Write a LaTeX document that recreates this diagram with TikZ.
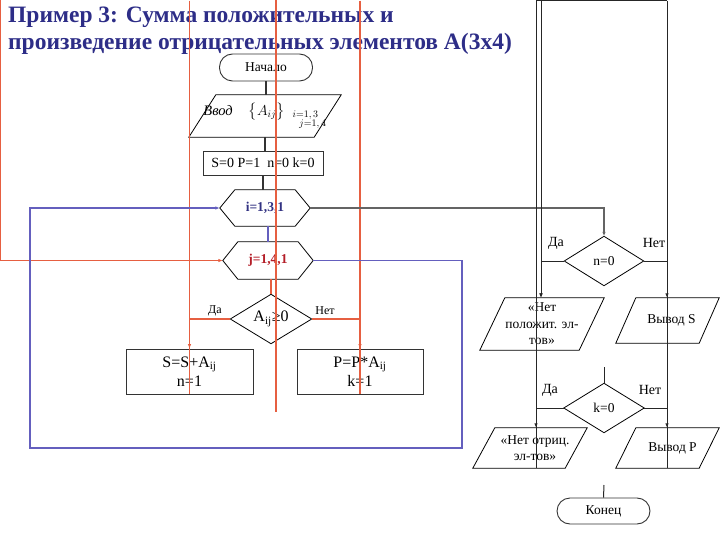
\documentclass[tikz,border=0pt]{standalone}
\usepackage{fontspec}
\usepackage{amsmath}
\setmainfont{Liberation Serif}
\usetikzlibrary{arrows.meta,calc}
\definecolor{redline}{RGB}{230,95,65}
\definecolor{blueline}{RGB}{100,95,190}
\definecolor{titleblue}{RGB}{45,45,135}
\definecolor{idark}{RGB}{50,50,130}
\definecolor{jred}{RGB}{180,30,40}
\definecolor{grayline}{RGB}{100,100,100}
\newcommand\drawpara[2]{\draw[shapeline] ([xshift=#2]#1.north west) -- ([xshift=#2]#1.north east) -- ([xshift=-#2]#1.south east) -- ([xshift=-#2]#1.south west) -- cycle;}
\newcommand\drawhex[2]{\draw[shapeline] (#1.north west) -- (#1.north east) -- ([xshift=#2]#1.east) -- (#1.south east) -- (#1.south west) -- ([xshift=-#2]#1.west) -- cycle;}
\newcommand\drawdia[1]{\draw[shapeline] (#1.north) -- (#1.east) -- (#1.south) -- (#1.west) -- cycle;}
\begin{document}
\begin{tikzpicture}[x=1pt,y=-1pt,
  shapeline/.style={draw=black, line width=0.8pt},
  shp/.style={rectangle, inner sep=0pt, align=center, font=\fontsize{13.5}{16.5}\selectfont},
  boxn/.style={shp, draw=black!80, line width=0.9pt},
  term/.style={shp, draw=black!80, line width=0.9pt, rounded corners=13pt},
  conn/.style={draw=black!80, line width=1.2pt},
  thinl/.style={draw=black!85, line width=1pt},
  redl/.style={draw=redline, line width=1.1pt},
  bluel/.style={draw=blueline, line width=1.5pt},
  grayl/.style={draw=grayline, line width=1.5pt},
  arr/.style={-{Latex[length=4.5pt,width=3.5pt]}},
  lblS/.style={inner sep=0pt, font=\fontsize{12}{12}\selectfont},
  lblL/.style={inner sep=0pt, font=\fontsize{14}{14}\selectfont}]
\useasboundingbox (0,0) rectangle (720,540);
\coordinate (top) at (0,0.6);

% title
\node[anchor=north west, inner sep=0pt, align=left, text=titleblue,
  font=\bfseries\fontsize{23.5}{27}\selectfont] (title) at (8,6.5)
  {Пример 3: Сумма положительных и\\произведение отрицательных элементов А(3х4)};

% left flowchart
\node[term, minimum width=93, minimum height=27, font=\fontsize{13.5}{15}\selectfont] (start) at (266,67.5) {Начало};
\node[shp, minimum width=125, minimum height=42] (inp) at (265,116)
  {\fontsize{14.5}{16}\selectfont\textit{Ввод}\hspace{1.1em}$\bigl\{A_{ij}\bigr\}_{\substack{i=1,\,3\\ \quad j=1,\,4}}$};
\drawpara{inp}{13.5}
\node[boxn, minimum width=120, minimum height=24, font=\fontsize{14}{16}\selectfont] (init) at (263,163) {S=0 P=1\ \ n=0 k=0};
\node[shp, minimum width=60, minimum height=36, text=idark, font=\bfseries\fontsize{13.5}{16}\selectfont] (i) at (265,208) {i=1,3,1};
\drawhex{i}{15}
\node[shp, minimum width=60, minimum height=37, text=jred, font=\bfseries\fontsize{13.5}{16}\selectfont] (j) at (268,260.5) {j=1,4,1};
\drawhex{j}{15}
\node[shp, minimum width=81, minimum height=49, font=\fontsize{16}{18}\selectfont] (d) at (271,319) {A\textsubscript{ij}≥0};
\drawdia{d}
\node[boxn, minimum width=127, minimum height=45, font=\fontsize{16}{19}\selectfont] (sb) at (189.5,371.5) {S=S+A\textsubscript{ij}\\n=1};
\node[boxn, minimum width=126, minimum height=45, font=\fontsize{16}{19}\selectfont] (pb) at (360,371.5) {P=P*A\textsubscript{ij}\\k=1};
\node[lblS] at (215,311) {Да};
\node[lblS] at (325,311) {Нет};

\coordinate (iL) at ([xshift=-15pt]i.west);
\coordinate (iR) at ([xshift=15pt]i.east);
\coordinate (jL) at ([xshift=-15pt]j.west);
\coordinate (jR) at ([xshift=15pt]j.east);

% right flowchart
\node[shp, minimum width=79, minimum height=49, font=\fontsize{13.5}{16}\selectfont] (n0) at (604,261) {n=0};
\drawdia{n0}
\node[shp, minimum width=99, minimum height=52] (npos) at (542,324) {«Нет\\положит. эл-\\тов»};
\drawpara{npos}{12.5}
\node[shp, minimum width=83, minimum height=45] (vs) at (667.5,320.5) {\hspace{8pt}Вывод S};
\drawpara{vs}{10}
\node[shp, minimum width=80, minimum height=49, font=\fontsize{13.5}{16}\selectfont] (k0) at (604,408) {k=0};
\drawdia{k0}
\node[shp, minimum width=92, minimum height=40] (nneg) at (530,448) {\hspace{10pt}«Нет отриц.\\\hspace{10pt}эл-тов»};
\drawpara{nneg}{11}
\node[shp, minimum width=83, minimum height=40] (vp) at (667.5,448) {\hspace{10pt}Вывод P};
\drawpara{vp}{10}
\node[term, minimum width=93, minimum height=26, font=\fontsize{13.5}{15}\selectfont] (end) at (603.5,511) {Конец};
\node[lblL] at (556,243) {Да};
\node[lblL] at (654,243) {Нет};
\node[lblL] at (550,390) {Да};
\node[lblL] at (650,390) {Нет};

% main connectors
\draw[conn] (start.south) -- (start.south |- inp.north);
\draw[conn] (inp.south) -- (inp.south |- init.north);
\draw[conn] (init.south) -- (init.south |- i.north);
\draw[bluel] (j.north |- i.south) -- (j.north);
\draw[redl] (d.north |- j.south) -- (d.north);

% red lines
\coordinate (rL) at (0.8,0);
\coordinate (rLb) at (0.8,260.5);
\draw[redl, arr] (rL) -- (rLb) -- (jL);
\draw[redl] (sb.north |- top) -- (sb.south);
\draw[redl] (pb.north |- top) -- (pb.south);
\coordinate (rMt) at (276,0);
\coordinate (rMb) at (276,412);
\draw[redl] (rMt) -- (rMb);
\draw[redl, arr] (d.west) -| (sb.north);
\draw[redl, arr] (d.east) -| (pb.north);

% blue loop
\coordinate (bl1) at (462,448);
\coordinate (bl2) at (30,448);
\draw[bluel, arr] (jR) -| (bl1) -- (bl2) |- (iL);

% gray exit
\draw[grayl, arr] (iR) -| (n0.north);

% right side lines
\coordinate (v1t) at (536,0.6);
\coordinate (v2t) at (541,0.6);
\coordinate (v3t) at (667,0.6);
\draw[thinl] (v1t) -- (v3t);
\draw[thinl] (v1t) -- (v1t |- nneg.south);
\draw[thinl, arr] (v2t) -- (v2t |- npos.north);
\draw[thinl] (v3t) -- (v3t |- vp.south);
\draw[thinl, arr] (n0.west) -| (v2t |- npos.north);
\draw[thinl, arr] (n0.east) -| (v3t |- vs.north);
\coordinate (ks) at (604,367);
\draw[thinl] (ks) -- (k0.north);
\draw[thinl, arr] (k0.west) -| (v1t |- nneg.north);
\draw[thinl, arr] (k0.east) -| (v3t |- vp.north);
\coordinate (es) at (604,485);
\draw[thinl] (es) -- (end.north);
\end{tikzpicture}
\end{document}
